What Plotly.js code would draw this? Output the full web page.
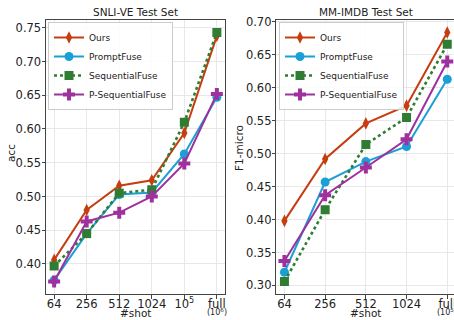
<!DOCTYPE html>
<html><head><meta charset="utf-8">
<script src="https://cdn.plot.ly/plotly-3.0.1.min.js"></script>
<style>html,body{margin:0;padding:0;overflow:hidden;background:#fff}#chart{width:462px;height:320px}</style>
</head><body><div id="chart"></div><script>
// Tick labels / categories
const shotsSNLI = ['64','256','512','1024','10<sup>5</sup>','full'];
const shotsIMDB = ['64','256','512','1024','full'];
const fullNoteSNLI = '(10<sup>6</sup>)';
const fullNoteIMDB = '(10<sup>5</sup>)';
const seriesNames = ['Ours','PromptFuse','SequentialFuse','P-SequentialFuse'];

// SNLI-VE (acc)
const snliOurs   = [0.406, 0.480, 0.516, 0.524, 0.594, 0.738];
const snliPrompt = [0.376, 0.445, 0.503, 0.506, 0.563, 0.647];
const snliSeq    = [0.397, 0.445, 0.505, 0.510, 0.610, 0.743];
const snliPSeq   = [0.374, 0.463, 0.476, 0.500, 0.549, 0.652];

// MM-IMDB (F1-micro)
const imdbOurs   = [0.398, 0.492, 0.546, 0.573, 0.684];
const imdbPrompt = [0.320, 0.457, 0.488, 0.511, 0.613];
const imdbSeq    = [0.306, 0.415, 0.514, 0.555, 0.666];
const imdbPSeq   = [0.337, 0.437, 0.479, 0.522, 0.640];

const colors  = ['#c63e10','#1ba0d6','#2e7d32','#9e319d'];
const symbols = ['diamond-tall','circle','square','cross'];
const msizes  = [9, 9, 9, 10];
const dashes  = ['solid','solid','dot','solid'];
const widths  = [2, 2, 2.6, 2];

const FONT = 'DejaVu Sans, sans-serif';
const traces = [];
function add(xs, ys, i, xa, ya, leg) {
  traces.push({
    type:'scatter', mode:'lines+markers', x: xs, y: ys, name: seriesNames[i],
    xaxis: xa, yaxis: ya, legend: leg,
    line:{color:colors[i], width:widths[i], dash:dashes[i]},
    marker:{color:colors[i], symbol:symbols[i], size:msizes[i], line:{width:0}}
  });
}
[snliOurs, snliPrompt, snliSeq, snliPSeq].forEach((ys,i)=>add(shotsSNLI, ys, i, 'x', 'y', 'legend'));
[imdbOurs, imdbPrompt, imdbSeq, imdbPSeq].forEach((ys,i)=>add(shotsIMDB, ys, i, 'x2', 'y2', 'legend2'));

const W = 462, H = 320;
const axCommon = {
  showline:true, mirror:true, linecolor:'#444', linewidth:1,
  ticks:'outside', ticklen:3.5, tickwidth:1, tickcolor:'#444',
  showgrid:true, gridcolor:'#e8e8e8', gridwidth:1, zeroline:false,
  tickfont:{family:FONT, size:11.5, color:'#222'}, automargin:false
};
const legCommon = {
  xanchor:'left', yanchor:'top', bgcolor:'rgba(255,255,255,0.85)',
  bordercolor:'#cccccc', borderwidth:1, font:{family:FONT, size:9, color:'#222'},
  itemwidth:30, tracegroupgap:0
};
const L1 = 46, R1 = 225, L2 = 276.3, R2 = 455.4;
function ann(text, x, y, size, angle) {
  return {text, x:x/W, y:(H-y)/H, xref:'paper', yref:'paper', showarrow:false,
    xanchor:'center', yanchor:'middle', textangle:angle||0, font:{family:FONT, size, color:'#222'}};
}
function note(text, xref, cat) {
  return {text, x:cat, xref:xref, y:(H-312)/H, yref:'paper', showarrow:false,
    xanchor:'center', yanchor:'middle', font:{family:FONT, size:8, color:'#222'}};
}
const layout = {
  width:W, height:H, margin:{l:0,r:0,t:0,b:0}, showlegend:true,
  paper_bgcolor:'#fff', plot_bgcolor:'#fff', font:{family:FONT, color:'#222'},
  xaxis: Object.assign({}, axCommon, {type:'category', domain:[L1/W, R1/W], range:[-0.25, 5.25], anchor:'y', ticklabelstandoff:-4}),
  yaxis: Object.assign({}, axCommon, {domain:[26/H, 300/H], range:[0.3555, 0.7615], dtick:0.05, tick0:0.4, tickformat:'.2f', anchor:'x', ticklabelstandoff:-2}),
  xaxis2: Object.assign({}, axCommon, {type:'category', domain:[L2/W, R2/W], range:[-0.2, 4.2], anchor:'y2', ticklabelstandoff:-4}),
  yaxis2: Object.assign({}, axCommon, {domain:[26/H, 300/H], range:[0.287, 0.703], dtick:0.05, tick0:0.3, tickformat:'.2f', anchor:'x2', ticklabelstandoff:-2}),
  legend: Object.assign({}, legCommon, {x:48/W, y:(H-22)/H}),
  legend2: Object.assign({}, legCommon, {x:279/W, y:(H-22)/H}),
  annotations:[
    ann('SNLI-VE Test Set', (L1+R1)/2, 12, 10.5),
    ann('MM-IMDB Test Set', (L2+R2)/2, 12, 10.5),
    ann('#shot', (L1+R1)/2, 313, 10.5),
    ann('#shot', (L2+R2)/2, 313, 10.5),
    ann('acc', 11, 153, 10.5, -90),
    ann('F1-micro', 239, 148, 10.5, -90),
    note(fullNoteSNLI, 'x', shotsSNLI[shotsSNLI.length-1]),
    note(fullNoteIMDB, 'x2', shotsIMDB[shotsIMDB.length-1])
  ]
};
Plotly.newPlot('chart', traces, layout, {staticPlot:true, displayModeBar:false});
</script></body></html>
